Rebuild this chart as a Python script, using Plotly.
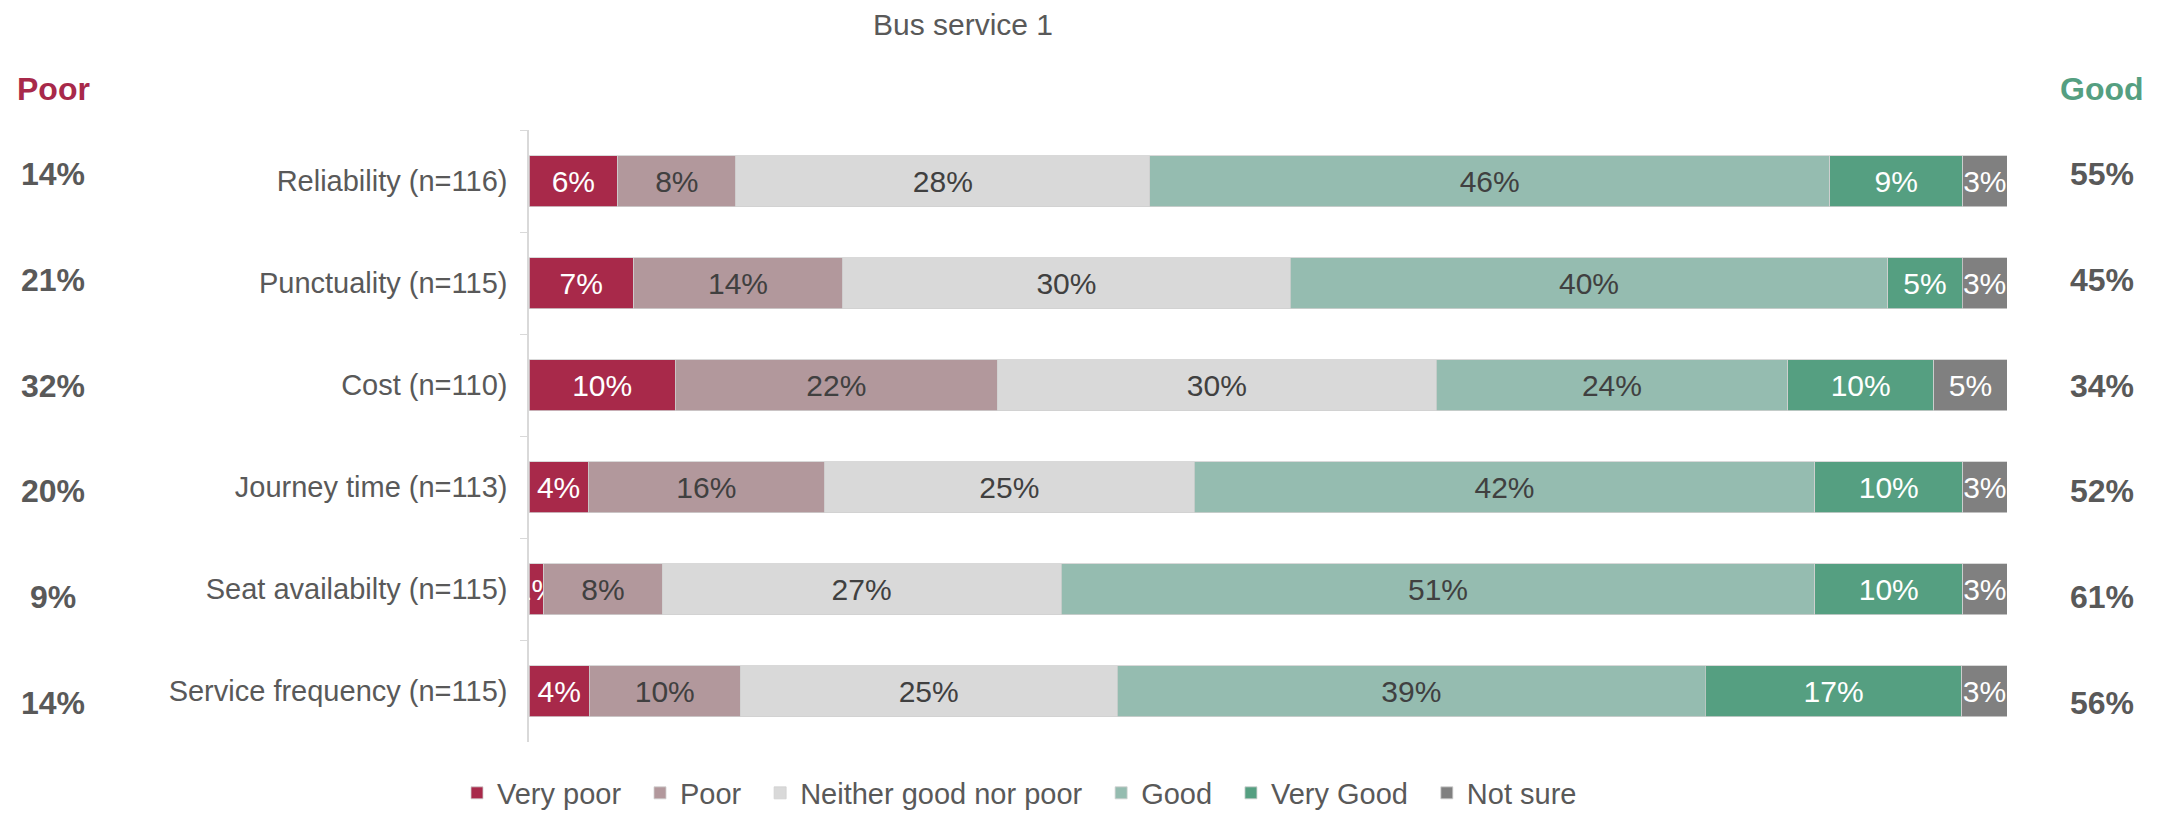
import plotly.graph_objects as go

categories = ["Reliability (n=116)", "Punctuality (n=115)", "Cost (n=110)",
              "Journey time (n=113)", "Seat availabilty (n=115)", "Service frequency (n=115)"]
series_names = ["Very poor", "Poor", "Neither good nor poor", "Good", "Very Good", "Not sure"]
very_poor = [6, 7, 10, 4, 1, 4]
poor = [8, 14, 22, 16, 8, 10]
neither = [28, 30, 30, 25, 27, 25]
good = [46, 40, 24, 42, 51, 39]
very_good = [9, 5, 10, 10, 10, 17]
not_sure = [3, 3, 5, 3, 3, 3]
poor_totals = [14, 21, 32, 20, 9, 14]
good_totals = [55, 45, 34, 52, 61, 56]

series_values = [very_poor, poor, neither, good, very_good, not_sure]
colors = ["#A8294A", "#B2989C", "#D9D9D9", "#95BCB0", "#559F81", "#808080"]
text_colors = ["white", "#404040", "#404040", "#404040", "white", "white"]

FONT = "Arial, Liberation Sans, sans-serif"
GREY = "#595959"
PAD = "\u00a0\u2009"

fig = go.Figure()
for k, (name, vals, col, tcol) in enumerate(zip(series_names, series_values, colors, text_colors)):
    fig.add_trace(go.Bar(
        y=categories, x=vals, name=name + (PAD if k < len(series_names) - 1 else ""),
        orientation="h",
        marker=dict(color=col, line=dict(color="#D0D0D0", width=0.8)),
        text=[f"{v}%" for v in vals], texttemplate="%{text}",
        textposition="inside", insidetextanchor="middle", textangle=0,
        constraintext="none",
        textfont=dict(family=FONT, size=30, color=tcol),
        hoverinfo="skip",
    ))

annotations = []
for i, cat in enumerate(categories):
    shift = 7 - i * 3.8
    annotations.append(dict(x=-0.322, xref="paper", xanchor="center", y=cat, yref="y", yshift=shift,
                            text=f"{poor_totals[i]}%", showarrow=False,
                            font=dict(family=FONT, size=32, color=GREY, weight="bold")))
    annotations.append(dict(x=1.0643, xref="paper", xanchor="center", y=cat, yref="y", yshift=shift,
                            text=f"{good_totals[i]}%", showarrow=False,
                            font=dict(family=FONT, size=32, color=GREY, weight="bold")))
annotations.append(dict(x=-0.322, xref="paper", xanchor="center", y=1.0997, yref="paper", text="Poor",
                        showarrow=False, font=dict(family=FONT, size=32, color="#A8294A", weight="bold")))
annotations.append(dict(x=1.0643, xref="paper", xanchor="center", y=1.0997, yref="paper", text="Good",
                        showarrow=False, font=dict(family=FONT, size=32, color="#559F81", weight="bold")))

fig.update_layout(
    barmode="stack", barnorm="percent", bargap=0.5,
    width=2165, height=815,
    margin=dict(l=529, r=158, t=130, b=73, autoexpand=False),
    paper_bgcolor="white", plot_bgcolor="white",
    font=dict(family=FONT, size=29, color=GREY),
    title=dict(text="Bus service 1", x=963 / 2165, xanchor="center", xref="container",
               y=1 - 24 / 815, yanchor="middle", yref="container",
               font=dict(family=FONT, size=30, color=GREY)),
    uniformtext=dict(minsize=30, mode="show"),
    legend=dict(orientation="h", xref="container", yref="paper",
                x=457 / 2165, xanchor="left", y=(742 - 793) / 612, yanchor="middle",
                font=dict(family=FONT, size=29, color=GREY), traceorder="normal",
                itemclick=False),
    annotations=annotations,
    xaxis=dict(range=[0, 100], visible=False, fixedrange=True),
    yaxis=dict(autorange="reversed", showline=True, linecolor="#D9D9D9", linewidth=1.5,
               ticks="outside", tickson="boundaries", ticklen=7, tickcolor="#D9D9D9",
               ticklabelstandoff=14, tickfont=dict(family=FONT, size=29, color=GREY),
               showgrid=False, fixedrange=True),
)

fig.write_html("out.html", config={"displayModeBar": False},
               post_script="document.body.style.margin='0';document.body.style.overflow='hidden';")
